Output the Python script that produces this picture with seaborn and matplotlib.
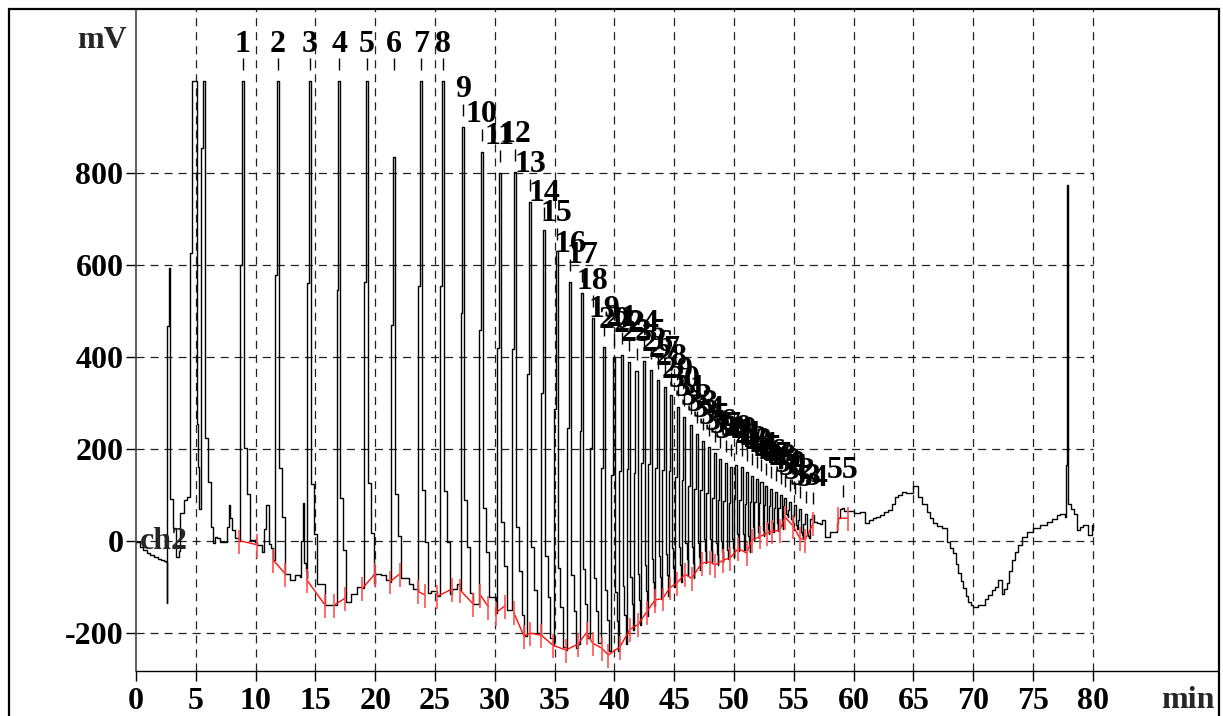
import numpy as np
import matplotlib
matplotlib.use("Agg")
import matplotlib.pyplot as plt
import seaborn as sns
from matplotlib.patches import Rectangle

# ---------------- data ----------------
peak_labels = [str(i) for i in range(1, 56)]
peak_time = [8.92, 11.85, 14.55, 17.0, 19.29, 21.57, 23.80, 25.64, 27.37, 28.90,
             30.43, 31.69, 32.94, 34.14, 35.17, 36.29, 37.32, 38.18, 39.13,
             39.99, 40.62, 41.25, 41.85, 42.45, 43.05, 43.65, 44.2, 44.75, 45.3,
             45.85, 46.4, 46.9, 47.4, 47.9, 48.4, 48.85, 49.3, 49.75, 50.2,
             50.65, 51.1, 51.5, 51.9, 52.3, 52.7, 53.1, 53.5, 53.9, 54.3,
             54.7, 55.1, 55.5, 56.0, 56.6, 59.1]
peak_apex = [1000, 1000, 1000, 1000, 1000, 836, 1000, 1000, 901, 847,
             800, 803, 738, 676, 631, 564, 540, 484, 422,
             400, 404, 390, 370, 392, 372, 350, 335, 318, 290,
             270, 252, 232, 218, 205, 190, 178, 170, 160, 165,
             160, 150, 140, 135, 128, 120, 112, 105, 100, 92,
             85, 78, 70, 58, 55, 72]

# unlabelled peaks
extra_time = [2.79, 4.87, 5.68, 10.98, 14.02, 77.9]
extra_apex = [593, 1000, 1000, 78, 82, 774]
extra_width = [0.05, 0.42, 0.12, 0.2, 0.1, 0.05]
extra_shoulder = [0.8, 0.6, 0.85, 0.5, 0.5, 0.15]
extra_tail = [0.2, 0.2, 0.2, 0.2, 0.2, 0.03]

# red integration baseline (nan = break between segments)
nan = np.nan
rb_t = [8.64, 10.14, nan, 11.48, 12.46, nan, 14.27, 15.8, nan, 16.58, 17.5, nan,
        18.93, 19.98, nan, 21.24, 22.07, nan, 23.55, 24.16, nan, 25.2, 26.45, nan,
        27.09, 28.2, nan, 28.78, 29.46, nan, 30.08, 30.85, nan,
        31.58, 32.44, 32.94, 33.9, 34.88, 35.95, 36.96, 37.68, 38.18, 38.94, 39.49,
        40.47, 41.3, 42.0, 42.7, 43.4, 44.04, 44.65, 45.2, 45.9, 46.46, 47.3, 48.0,
        48.41, 49.1, 49.67, 50.36, 51.06, 51.48, 52.17, 52.73, 53.15, 53.85, 54.26,
        54.96, 55.52, 55.94, 56.63, nan, 58.72, 59.56]
rb_v = [0, -9, nan, -42, -72, nan, -85, -140, nan, -140, -125, nan,
        -104, -72, nan, -89, -72, nan, -110, -118, nan, -121, -105, nan,
        -107, -138, nan, -118, -144, nan, -157, -142, nan,
        -156, -208, -201, -206, -228, -238, -225, -200, -223, -234, -249,
        -231, -193, -182, -155, -129, -126, -102, -93, -73, -82, -49, -46,
        -53, -42, -38, -17, -27, 1, 9, 16, 20, 23, 52,
        31, 5, 2, 38, nan, 49, 49]

# detector trace between peaks
trace_t = [0.0, 0.3, 0.6, 0.9, 1.2, 1.5, 1.8, 2.1, 2.35, 2.52, 2.56, 2.6,
           3.0, 3.3, 3.6, 3.7, 3.98, 4.3,
           5.9, 6.1, 6.4, 6.6, 6.8, 7.0, 7.33, 7.6, 7.75, 7.9, 8.03, 8.3,
           9.5, 9.98, 10.54, 11.3, 12.9, 13.3, 13.74, 16.2, 18.0, 18.5,
           20.5, 20.9, 22.8, 23.2, 24.7, 26.8,
           57.33, 57.6, 58.0, 58.6, 59.0, 60.0, 60.5, 60.95, 61.3, 61.6, 61.9,
           62.2, 62.55, 62.9, 63.2, 63.46, 63.75, 64.02, 64.35, 64.7, 65.0,
           65.4, 65.75, 66.1, 66.4, 66.66, 67.0, 67.36, 67.78, 68.05, 68.34,
           68.55, 68.75, 68.95, 69.17, 69.4, 69.6, 69.8, 70.0, 70.4, 70.7,
           71.0, 71.27, 71.55, 71.82, 72.1, 72.38, 72.6, 72.8, 73.0, 73.22,
           73.5, 73.77, 74.05, 74.5, 75.03, 75.6, 76.14, 76.55, 76.98, 77.3, 77.68,
           78.1, 78.4, 78.65, 78.9, 79.2, 79.6, 79.9, 80.0]
trace_v = [-2, -13, -20, -26, -31, -35, -40, -42, -44, -46, -136, -46,
           -24, -20, -22, 60, 88, 95,
           20, 9, -5, 8, 5, -2, -2, 30, 77, 50, 23, 5,
           5, -2, -24, -30, -86, -75, -78, -140, -115, -100,
           -75, -85, -95, -105, -110, -95,
           45, 9, 20, 38, 67, 60, 63, 38, 44, 50, 52,
           56, 62, 67, 80, 96, 100, 105, 104, 103, 118,
           96, 80, 63, 50, 38, 33, 27, -2, -15, -27,
           -50, -71, -88, -104, -120, -133, -140, -144, -140, -140,
           -128, -118, -108, -100, -86, -115, -105, -93, -65, -42,
           -25, -9, 9, 18, 27, 35, 41, 48, 56, 58, 52,
           63, 45, 23, 30, 34, 12, 34, 30]

x_ticks = list(range(0, 81, 5))
y_ticks = [-200, 0, 200, 400, 600, 800]

# ---------------- build the trace ----------------
rb_t_arr = np.array(rb_t, float)
rb_v_arr = np.array(rb_v, float)
ok = ~np.isnan(rb_t_arr)
bt = np.concatenate([np.array(trace_t, float), rb_t_arr[ok]])
bv = np.concatenate([np.array(trace_v, float), rb_v_arr[ok]])
o = np.argsort(bt)
bt, bv = bt[o], bv[o]

DEFAULT_W = 0.17
DEFAULT_SHOULDER = 0.6
DEFAULT_TAIL = 0.2
all_t = np.array(peak_time + extra_time, float)
all_a = np.array(peak_apex + extra_apex, float)
all_w = np.array([DEFAULT_W] * len(peak_time) + extra_width, float)
all_s = np.array([DEFAULT_SHOULDER] * len(peak_time) + extra_shoulder, float)
all_tail = np.array([DEFAULT_TAIL] * len(peak_time) + extra_tail, float)
order = np.argsort(all_t)

pk_pts = []
windows = []
n = len(order)
for k, idx in enumerate(order):
    t, a, w = all_t[idx], all_a[idx], all_w[idx]
    gp = t - all_t[order[k - 1]] if k > 0 else 10.0
    gn = all_t[order[k + 1]] - t if k < n - 1 else 10.0
    rise = min(0.15, 0.25 * gp)
    fall = max(0.03, min(0.5, 0.5 * gn - w / 2))
    b = np.interp(t, bt, bv)
    H = a - b
    tail = all_tail[idx]
    pk_pts += [(t - w / 2 - rise, b + all_s[idx] * H), (t - w / 2, a),
               (t + w / 2, b + tail * H), (t + w / 2 + fall / 2, b + tail * 0.5 * H),
               (t + w / 2 + fall, b)]
    windows.append((t - w / 2 - rise, t + w / 2 + fall))

keep = np.ones(len(bt), bool)
for s, e in windows:
    keep &= ~((bt >= s) & (bt <= e))
pts = [(x, y) for x, y in zip(bt[keep], bv[keep])] + pk_pts
pts.sort(key=lambda p: p[0])
tr_x = np.array([p[0] for p in pts])
tr_y = np.array([p[1] for p in pts])

# ---------------- figure ----------------
sns.set_theme(style="white")
plt.rcParams['font.family'] = ['Liberation Serif', 'DejaVu Serif']
plt.rcParams['font.weight'] = 'bold'
plt.rcParams['lines.scale_dashes'] = False

W, Hpx = 1223, 716
fig = plt.figure(figsize=(W / 100, Hpx / 100), dpi=100)
fig.patch.set_facecolor('white')
ax = fig.add_axes([136 / W, 1 - 671 / Hpx, (1218 - 136) / W, (671 - 9) / Hpx])
ax.set_facecolor('white')
ax.set_xlim(0, 90.47)
ax.set_ylim(-283.7, 1157.6)

dash = (0, (5.8, 4.3))
ax.vlines(x_ticks[1:], -283.7, 1157.6, colors='#222222', linestyles=[dash], lw=0.9, zorder=1)
ax.hlines(y_ticks, 0, 80, colors='#222222', linestyles=[dash], lw=0.9, zorder=1)

sns.lineplot(x=tr_x, y=tr_y, drawstyle='steps-post', sort=False, estimator=None,
             color='black', lw=1.0, ax=ax, zorder=3)

# red baseline + ticks
ax.plot(rb_t_arr, rb_v_arr, color='#ff1010', lw=1.0, zorder=4)
ax.vlines(rb_t_arr[ok], rb_v_arr[ok] - 28, rb_v_arr[ok] + 24, colors='#ff5050', lw=1.2, zorder=4)

# peak labels
for i, (lab, t, a) in enumerate(zip(peak_labels, peak_time, peak_apex)):
    top = 1000 if i < 8 else min(a, 1000)
    ax.vlines(t, top + 24, top + 50, colors='black', lw=1.0, zorder=5)
    ax.text(t, top + 64, lab, ha='center', va='baseline', fontsize=23,
            fontweight='bold', color='black', zorder=6)

ax.text(0.33, -18, 'ch2', ha='left', va='baseline', fontsize=23, fontweight='bold', zorder=6)

# axes styling
for s in ['top', 'right']:
    ax.spines[s].set_visible(False)
ax.spines['left'].set_color('#444444')
ax.spines['left'].set_linewidth(1.2)
ax.spines['bottom'].set_color('black')
ax.spines['bottom'].set_linewidth(1.0)
ax.set_xticks(x_ticks)
ax.set_yticks(y_ticks)
ax.set_xticklabels([str(v) for v in x_ticks])
ax.set_yticklabels([str(v) for v in y_ticks])
ax.tick_params(axis='both', direction='out', length=7, width=1, colors='black',
               labelsize=23, left=True, bottom=True)
ax.tick_params(axis='x', pad=4.5)
ax.tick_params(axis='y', pad=2)
for lbl in ax.get_xticklabels() + ax.get_yticklabels():
    lbl.set_fontweight('bold')
ax.set_xlabel('')
ax.set_ylabel('')
ax.grid(False)

fig.text(127 / W, 1 - 40 / Hpx, 'mV', ha='right', va='center', fontsize=23, fontweight='bold')
fig.text(1214 / W, 1 - 708 / Hpx, 'min', ha='right', va='baseline', fontsize=23, fontweight='bold')

fig.add_artist(Rectangle((9 / W, -0.05), (1219 - 9) / W, 0.05 + (Hpx - 9) / Hpx,
                         transform=fig.transFigure, fill=False, lw=1.6, ec='black'))

fig.savefig('out.png', dpi=100, facecolor='white')
